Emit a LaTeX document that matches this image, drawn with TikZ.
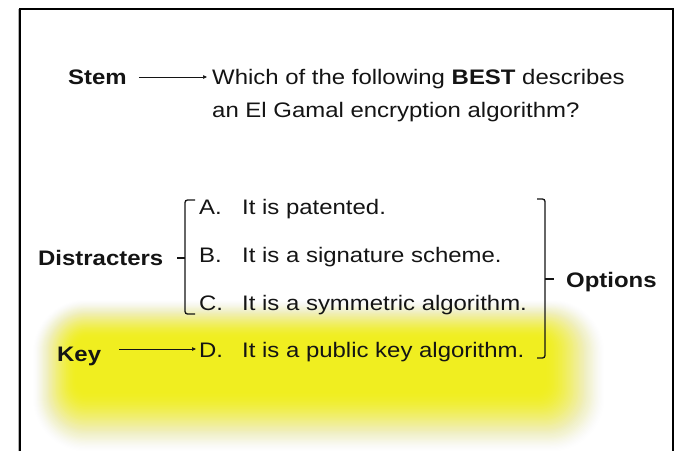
\documentclass[tikz,border=0pt]{standalone}
\usepackage{fontspec}
\setmainfont{Liberation Sans}[FakeStretch=1.14]
\usetikzlibrary{arrows.meta}
\definecolor{glowyellow}{RGB}{240,238,30}
\definecolor{ink}{RGB}{20,20,20}
\begin{document}
\begin{tikzpicture}[x=1pt,y=-1pt,
  txt/.style={inner sep=0pt, anchor=base west, text height=16pt, text depth=0pt,
              font=\fontsize{21}{33}\selectfont, text=ink},
  lbl/.style={txt, font=\fontsize{21}{33}\selectfont\bfseries},
  arr/.style={draw=ink, line width=0.7pt, -{Triangle[length=4pt,width=3.5pt]}},
  brk/.style={draw=ink, line width=1.3pt, rounded corners=2.5pt},
  frame/.style={draw=black, line width=2.2pt}]
  \useasboundingbox (0,0) rectangle (677,451);
  \fill[white] (0,0) rectangle (677,451);

  % soft highlighter glow behind the correct answer.
  % Layer k grows the core box by a fraction k/48 of the spread; its opacity
  % is chosen so the stacked layers follow a smoothstep fall-off.
  \foreach \k in {0,...,47}{
    \pgfmathsetmacro{\ta}{\k/48}
    \pgfmathsetmacro{\tb}{(\k+1)/48}
    \pgfmathsetmacro{\oa}{0.92*(1-(3*\ta*\ta-2*\ta*\ta*\ta))}
    \pgfmathsetmacro{\ob}{0.92*(1-(3*\tb*\tb-2*\tb*\tb*\tb))}
    \pgfmathsetmacro{\al}{1-(1-\oa)/(1-\ob)}
    \pgfmathsetmacro{\rc}{10+45*\ta}
    \fill[glowyellow, opacity=\al, rounded corners=\rc pt]
      (77-46*\ta, 338-40*\ta) rectangle (545+62*\ta, 392+62*\ta);
  }

  % slide frame
  \draw[gray!60, line width=1pt] (18.5,451) -- (18.5,9);
  \draw[frame] (20,451) -- (20,9) -- (673,9) -- (673,451);

  % stem
  \node[lbl] (stem) at (68,84) {Stem};
  \node[txt] (q1) at (212,84) {Which of the following \textbf{BEST} describes};
  \node[txt] (q2) at (212,117) {an El Gamal encryption algorithm?};
  \draw[arr] ([xshift=12pt,yshift=-1pt]stem.east) -- ([xshift=-5pt,yshift=-1pt]q1.west);

  % answer options
  \node[txt] (la) at (199,214) {A.};
  \node[txt] (lb) at (199,262) {B.};
  \node[txt] (lc) at (199,310) {C.};
  \node[txt] (ld) at (199,357) {D.};
  \node[txt] (oa) at (242,214) {It is patented.};
  \node[txt] (ob) at (242,262) {It is a signature scheme.};
  \node[txt] (oc) at (242,310) {It is a symmetric algorithm.};
  \node[txt] (od) at (242,357) {It is a public key algorithm.};

  % labels
  \node[lbl] (dis) at (38,265) {Distracters};
  \node[lbl] (key) at (57,361) {Key};
  \node[lbl] (opt) at (566,287) {Options};

  % key arrow
  \draw[arr] ([xshift=18pt]key.east |- ld.west) -- ([xshift=-3pt]ld.west);

  % distracter bracket
  \draw[brk] (195,200) -- (185,200) -- (185,314) -- (195,314);
  \draw[draw=ink, line width=1.3pt] (185,258) -- (177,258);

  % options bracket
  \draw[brk] (537,199) -- (545,199) -- (545,358) -- (537,358);
  \draw[draw=ink, line width=1.3pt] (545,279) -- (554,279);
\end{tikzpicture}
\end{document}
